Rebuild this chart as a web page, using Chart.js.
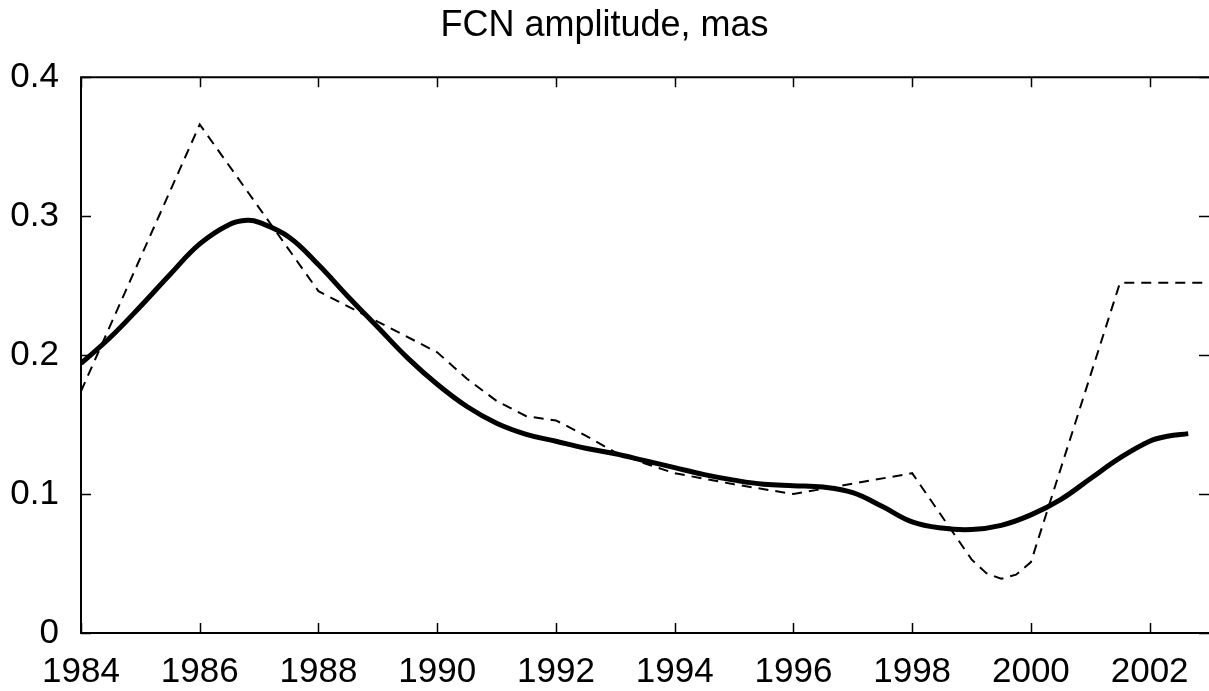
<!DOCTYPE html>
<html>
<head>
<meta charset="utf-8">
<script src="https://cdn.jsdelivr.net/npm/chart.js@4.4.0/dist/chart.umd.min.js"></script>
<style>
  html, body { margin: 0; padding: 0; background: #fff; }
  #wrap { width: 1209px; height: 691px; }
</style>
</head>
<body>
<div id="wrap"><canvas id="chart" width="1209" height="691"></canvas></div>
<script>
// dashed series (estimates, joined by straight lines)
const dashedYears = [1984, 1986, 1988, 1990, 1990.5, 1991, 1991.5, 1992, 1992.5, 1993, 1993.5, 1994, 1995, 1996, 1998, 1999, 1999.25, 1999.5, 1999.75, 2000, 2001.5, 2003];
const dashedAmp   = [0.174, 0.366, 0.246, 0.202, 0.183, 0.167, 0.156, 0.153, 0.142, 0.130, 0.122, 0.115, 0.107, 0.100, 0.115, 0.053, 0.043, 0.039, 0.042, 0.051, 0.252, 0.252];

// smooth series
const smoothYears = [1984, 1984.5, 1985, 1985.5, 1986, 1986.5, 1986.8, 1987, 1987.5, 1988, 1988.5, 1989, 1989.5, 1990, 1990.5, 1991, 1991.5, 1992, 1992.5, 1993, 1993.5, 1994, 1994.5, 1995, 1995.5, 1996, 1996.5, 1997, 1997.5, 1998, 1998.5, 1999, 1999.5, 2000, 2000.5, 2001, 2001.5, 2002, 2002.3, 2002.65];
const smoothAmp   = [0.194, 0.213, 0.235, 0.258, 0.280, 0.294, 0.297, 0.2955, 0.285, 0.265, 0.242, 0.220, 0.198, 0.179, 0.163, 0.151, 0.143, 0.138, 0.133, 0.129, 0.124, 0.119, 0.114, 0.110, 0.107, 0.106, 0.105, 0.101, 0.091, 0.080, 0.0755, 0.0745, 0.0775, 0.085, 0.096, 0.111, 0.126, 0.138, 0.1416, 0.1435];

const xTicks = [1984, 1986, 1988, 1990, 1992, 1994, 1996, 1998, 2000, 2002];
const yTicks = [0, 0.1, 0.2, 0.3, 0.4];

const toPoints = (xs, ys) => xs.map((x, i) => ({ x, y: ys[i] }));

const FONT = "'Liberation Sans', Arial, Helvetica, sans-serif";

// frame with inward ticks on all four sides, like the original plot
// (the right border itself falls just outside the picture)
const frame = {
  id: "frame",
  afterDraw(chart) {
    const { ctx, chartArea: a, scales } = chart;
    ctx.save();
    ctx.strokeStyle = "#000";
    ctx.lineWidth = 1.5;
    const len = 10;
    ctx.beginPath();
    xTicks.forEach(v => {
      const px = Math.round(scales.x.getPixelForValue(v)) + 0.5;
      ctx.moveTo(px, a.bottom); ctx.lineTo(px, a.bottom - len);
      ctx.moveTo(px, a.top); ctx.lineTo(px, a.top + len);
    });
    yTicks.forEach(v => {
      const py = Math.round(scales.y.getPixelForValue(v)) + 0.5;
      ctx.moveTo(a.left, py); ctx.lineTo(a.left + len, py);
      ctx.moveTo(a.right, py); ctx.lineTo(a.right - len, py);
    });
    ctx.stroke();
    ctx.lineWidth = 2;
    ctx.beginPath();
    ctx.moveTo(a.right, a.top);
    ctx.lineTo(a.left, a.top);
    ctx.lineTo(a.left, a.bottom);
    ctx.lineTo(a.right, a.bottom);
    ctx.stroke();
    ctx.restore();
  }
};

new Chart(document.getElementById("chart"), {
  type: "line",
  data: {
    datasets: [
      {
        label: "smooth",
        data: toPoints(smoothYears, smoothAmp),
        borderColor: "#000",
        borderWidth: 5,
        pointRadius: 0,
        tension: 0.4,
        fill: false
      },
      {
        label: "estimates",
        data: toPoints(dashedYears, dashedAmp),
        borderColor: "#000",
        borderWidth: 2,
        borderDash: [10, 7],
        pointRadius: 0,
        tension: 0,
        fill: false
      }
    ]
  },
  options: {
    responsive: false,
    animation: false,
    layout: { padding: { left: 0, right: 0, top: 0, bottom: 0 } },
    plugins: {
      legend: { display: false },
      tooltip: { enabled: false },
      title: {
        display: true,
        text: "FCN amplitude, mas",
        color: "#000",
        font: { family: FONT, size: 36, weight: "normal" },
        padding: { top: 4, bottom: 30 }
      }
    },
    scales: {
      x: {
        type: "linear",
        min: 1984,
        max: 2003,
        grid: { display: false },
        border: { display: false },
        afterFit: s => { s.height = 58; },
        ticks: {
          stepSize: 2,
          includeBounds: false,
          maxRotation: 0,
          autoSkip: false,
          padding: 10,
          color: "#000",
          font: { family: FONT, size: 35 },
          callback: v => String(v)
        }
      },
      y: {
        min: 0,
        max: 0.4,
        grid: { display: false },
        border: { display: false },
        afterFit: s => { s.width = 81; },
        ticks: {
          stepSize: 0.1,
          padding: 14,
          color: "#000",
          font: { family: FONT, size: 35 },
          callback: v => v === 0 ? "0" : v.toFixed(1)
        }
      }
    }
  },
  plugins: [frame]
});
</script>
</body>
</html>
